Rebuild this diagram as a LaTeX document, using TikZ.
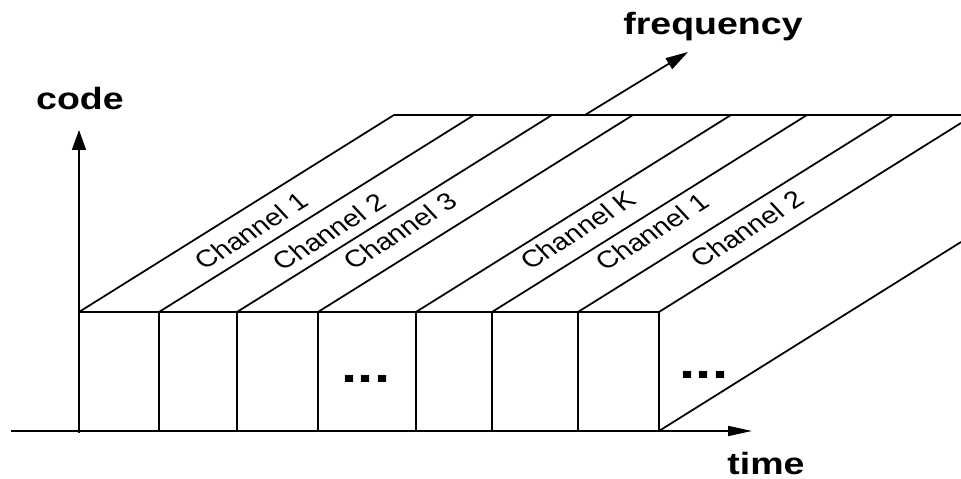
\documentclass[tikz,border=0pt]{standalone}
\usepackage{fontspec}
\setmainfont{Liberation Sans}
\usetikzlibrary{arrows.meta}
\tikzset{
  axislabel/.style={font=\fontsize{17.5}{21}\selectfont\bfseries, xscale=1.22, inner sep=0pt},
  chanlabel/.style={font=\fontsize{13.6}{16}\selectfont, xscale=1.22, rotate=37.3, inner sep=0pt},
  dotlabel/.style={font=\fontsize{27}{30}\selectfont\bfseries, xscale=1.22, inner sep=0pt},
  slot/.style={line width=1pt},
}
\begin{document}
\begin{tikzpicture}[x=0.02cm,y=0.02cm,line width=1pt]
\useasboundingbox (0,0) rectangle (961,479);
% slots of the time axis, each running back along frequency
\foreach \xs in {79,159,237,318,416,492,578}{
  \draw[slot] (\xs,48) -- (\xs,167) -- ++(315,197);
}
\coordinate (fl) at (79,167);
\coordinate (fr) at (659,167);
\coordinate (br) at (659,48);
\draw[slot] (br) -- (fr) -- (961,356);
\draw[slot] (br) -- (961,237);
\draw[slot] (fl) -- (fr);
\draw[slot] (394,364) -- (961,364); % back edge
% axes
\coordinate (o) at (79,46);
\draw[-{Triangle[length=0.4cm,width=0.28cm]}] (o) -- (79,349);
\draw[-{Triangle[length=0.48cm,width=0.2cm]}] (11,48) -- (752,48);
\draw[-{Triangle[length=0.45cm,width=0.25cm]}] (585,364) -- (688,427);
\node[axislabel,anchor=base] (code) at (80,369) {code};
\node[axislabel,anchor=base] (freq) at (713,444) {frequency};
\node[axislabel,anchor=base] (time) at (766,4) {time};
% channel labels
\foreach \n/\cx/\cy/\txt in {ch1/251/248/Channel 1, ch2/329/247/Channel 2,
    ch3/400/248/Channel 3, chk/578/249/Channel K, chA/652/247/Channel 1,
    chB/747/250/Channel 2}{
  \node[chanlabel] (\n) at (\cx,\cy) {\txt};
}
\node[dotlabel] (dots1) at (366,100) {...};
\node[dotlabel] (dots2) at (704,104) {...};
\end{tikzpicture}
\end{document}
